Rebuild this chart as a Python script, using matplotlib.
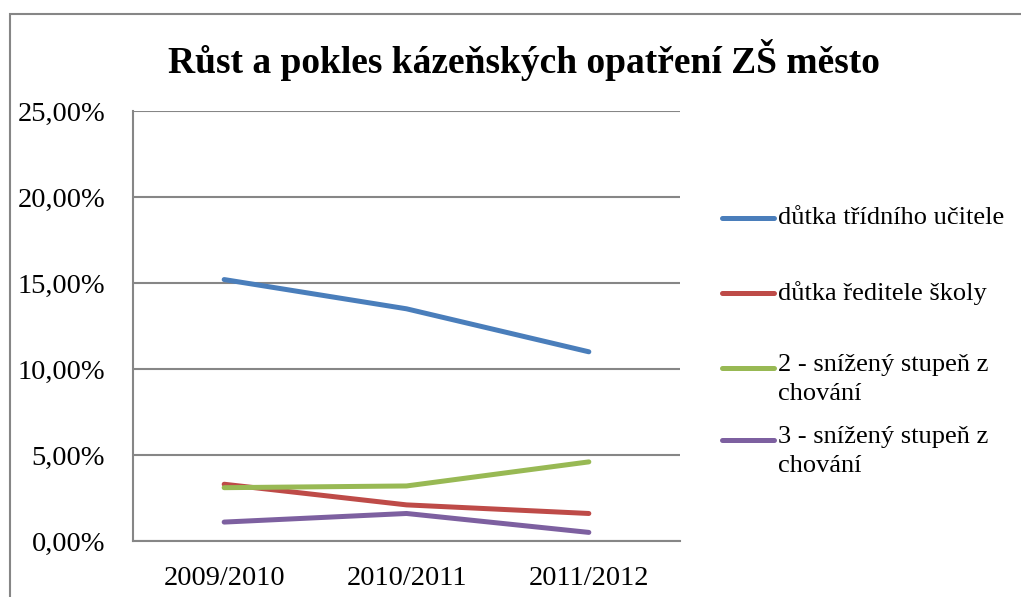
import matplotlib.pyplot as plt
from matplotlib.lines import Line2D
from matplotlib.patches import Rectangle
from matplotlib.ticker import FuncFormatter

# data (percent)
years = ['2009/2010', '2010/2011', '2011/2012']
dutka_ucitele = [15.2, 13.5, 11.0]
dutka_reditele = [3.3, 2.1, 1.6]
snizeny_2 = [3.1, 3.2, 4.6]
snizeny_3 = [1.1, 1.6, 0.5]

labels = ['důtka třídního učitele', 'důtka ředitele školy',
          '2 - snížený stupeň z\nchování', '3 - snížený stupeň z\nchování']
colors = ['#4a7ebb', '#be4b48', '#98b954', '#7d60a0']
series = [dutka_ucitele, dutka_reditele, snizeny_2, snizeny_3]

plt.rcParams['font.family'] = ['Liberation Serif', 'DejaVu Serif']

fig = plt.figure(figsize=(10.21, 5.97), dpi=100)
ax = fig.add_axes([133 / 1021, 1 - 541 / 597, (680 - 133) / 1021, (541 - 111) / 597])

x = range(len(years))
for vals, c in zip(series, colors):
    ax.plot(x, vals, color=c, lw=3.6, solid_capstyle='round', zorder=3)

ax.set_xlim(-0.5, 2.5)
ax.set_ylim(0, 25)
ax.set_yticks([0, 5, 10, 15, 20, 25])
ax.yaxis.set_major_formatter(FuncFormatter(lambda v, p: f'{v:.2f}'.replace('.', ',') + '%'))
ax.set_xticks(list(x))
ax.set_xticklabels(years)
ax.tick_params(length=0, labelsize=20.5, colors='black')
ax.tick_params(axis='y', pad=20)
ax.tick_params(axis='x', pad=18)
ax.grid(axis='y', color='#868686', lw=1.5)
ax.set_axisbelow(True)
for s in ['top', 'right']:
    ax.spines[s].set_visible(False)
for s in ['left', 'bottom']:
    ax.spines[s].set_color('#868686')
    ax.spines[s].set_linewidth(1.5)

# title
fig.text(524 / 1021, 1 - 60 / 597, 'Růst a pokles kázeňských opatření ZŠ město',
         ha='center', va='center', fontsize=27, fontweight='bold')

# manual legend, Excel style
leg_y = [218, 293, 368, 440]
for lab, c, yy in zip(labels, colors, leg_y):
    fy = 1 - yy / 597
    fig.add_artist(Line2D([722 / 1021, 774 / 1021], [fy, fy], color=c, lw=3.6,
                          solid_capstyle='round', transform=fig.transFigure))
    multi = '\n' in lab
    fig.text(778 / 1021, fy + (14 / 597 if multi else 0), lab, ha='left',
             va='top' if multi else 'center', fontsize=19, linespacing=1.4)

# chart border
fig.add_artist(Rectangle((10 / 1021, -0.1), 1.2, 1 - 14 / 597 + 0.1, fill=False,
                         edgecolor='#868686', lw=1.5, transform=fig.transFigure))

fig.savefig('out.png', dpi=100)
